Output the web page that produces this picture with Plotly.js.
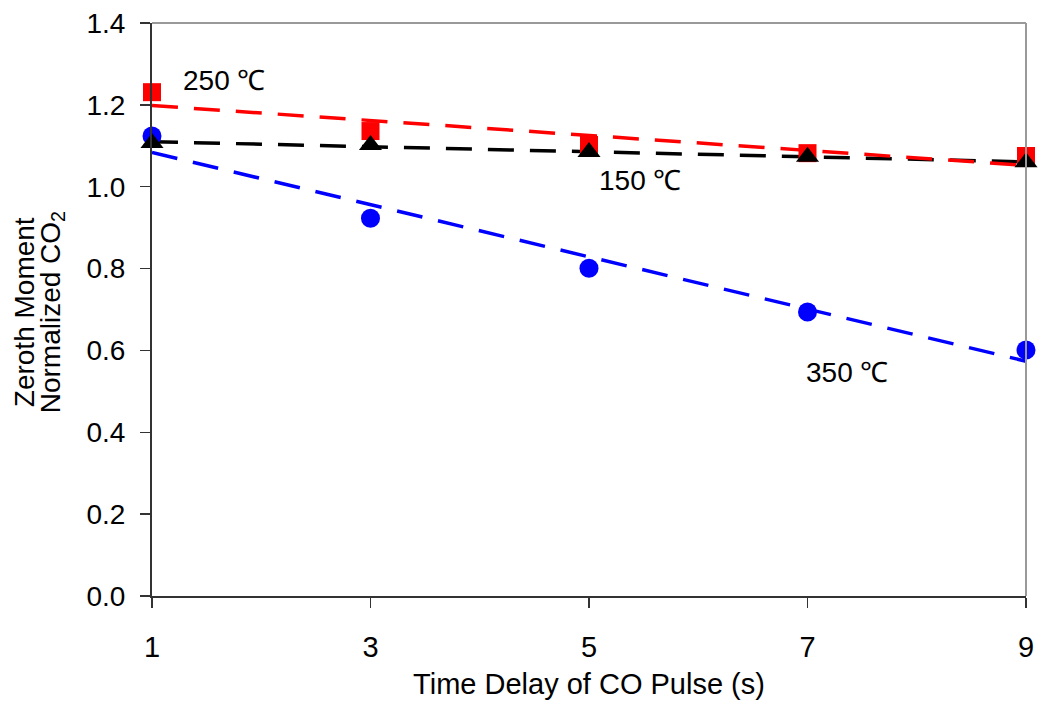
<!DOCTYPE html>
<html>
<head>
<meta charset="utf-8">
<script src="https://cdn.plot.ly/plotly-3.0.1.min.js"></script>
<style>html,body{margin:0;padding:0;background:#fff;}#chart{width:1039px;height:704px;}</style>
</head>
<body>
<div id="chart"></div>
<script>
// Data
const timeDelay = [1, 3, 5, 7, 9];
const series250 = [1.231, 1.136, 1.102, 1.082, 1.075];
const series150 = [1.107, 1.102, 1.085, 1.073, 1.060];
const series350 = [1.124, 0.923, 0.801, 0.694, 0.601];
const yTickVals = [0, 0.2, 0.4, 0.6, 0.8, 1.0, 1.2, 1.4];
const xTickVals = [1, 3, 5, 7, 9];
const labels = ["250 \u2103", "150 \u2103", "350 \u2103"];
const yTitleLines = ["Zeroth Moment", "Normalized CO<sub>2</sub>"];
const xTitle = "Time Delay of CO Pulse (s)";

function linFit(xs, ys) {
  const n = xs.length;
  const mx = xs.reduce((a, b) => a + b, 0) / n;
  const my = ys.reduce((a, b) => a + b, 0) / n;
  let sxy = 0, sxx = 0;
  for (let i = 0; i < n; i++) { sxy += (xs[i] - mx) * (ys[i] - my); sxx += (xs[i] - mx) ** 2; }
  const m = sxy / sxx, b = my - m * mx;
  const x0 = Math.min(...xs), x1 = Math.max(...xs);
  return { x: [x0, x1], y: [m * x0 + b, m * x1 + b] };
}

const font = "Liberation Sans, Arial, sans-serif";
const dash = "26px,16px";
const lw = 3.5;

const f150 = linFit(timeDelay, series150);
const f250 = linFit(timeDelay, series250);
const f350 = linFit(timeDelay, series350);

const traces = [
  { x: f350.x, y: f350.y, mode: "lines", line: { color: "#0000ff", width: lw, dash: dash }, cliponaxis: false, hoverinfo: "skip" },
  { x: f150.x, y: f150.y, mode: "lines", line: { color: "#000000", width: lw, dash: dash }, cliponaxis: false, hoverinfo: "skip" },
  { x: f250.x, y: f250.y, mode: "lines", line: { color: "#ff0000", width: lw, dash: dash }, cliponaxis: false, hoverinfo: "skip" },
  { x: timeDelay, y: series350, mode: "markers", marker: { symbol: "circle", size: 19, color: "#0000ff" }, cliponaxis: false },
  { x: timeDelay, y: series250, mode: "markers", marker: { symbol: "square", size: 18, color: "#ff0000" }, cliponaxis: false },
  { x: timeDelay, y: series150, mode: "markers", marker: { symbol: "triangle-up", size: 20, color: "#000000" }, cliponaxis: false }
];

const layout = {
  width: 1039, height: 704,
  margin: { l: 152, r: 13, t: 23, b: 108 },
  paper_bgcolor: "#fff", plot_bgcolor: "#fff",
  showlegend: false,
  font: { family: font, size: 26, color: "#000" },
  xaxis: {
    range: [1, 9], tickvals: xTickVals, ticktext: xTickVals.map(String),
    showgrid: false, zeroline: false, showline: true, linecolor: "#333", linewidth: 2,
    ticks: "outside", ticklen: 10, tickcolor: "#333", tickwidth: 1.5,
    ticklabelstandoff: 14,
    tickfont: { family: font, size: 29 },
    title: { text: xTitle, font: { family: font, size: 29 }, standoff: 12 }
  },
  yaxis: {
    range: [0, 1.4], tickvals: yTickVals, tickformat: ".1f",
    showgrid: false, zeroline: false, showline: true, linecolor: "#333", linewidth: 2,
    ticks: "outside", ticklen: 10, tickcolor: "#333", tickwidth: 1.5,
    ticklabelstandoff: 9,
    tickfont: { family: font, size: 28 }
  },
  shapes: [
    { type: "line", xref: "paper", yref: "paper", x0: 0, x1: 1, y0: 1, y1: 1, line: { color: "#999", width: 2 } },
    { type: "line", xref: "paper", yref: "paper", x0: 1, x1: 1, y0: 0, y1: 1, line: { color: "#999", width: 2 } }
  ],
  annotations: [
    { x: 1.66, y: 1.26, text: labels[0], showarrow: false, font: { family: font, size: 28 } },
    { x: 5.47, y: 1.016, text: labels[1], showarrow: false, font: { family: font, size: 28 } },
    { x: 7.37, y: 0.547, text: labels[2], showarrow: false, font: { family: font, size: 28 } },
    { xref: "paper", yref: "paper", x: -0.1455, y: 0.495, xanchor: "center", yanchor: "middle", text: yTitleLines[0], textangle: -90, showarrow: false, font: { family: font, size: 28 } },
    { xref: "paper", yref: "paper", x: -0.1145, y: 0.495, xanchor: "center", yanchor: "middle", text: yTitleLines[1], textangle: -90, showarrow: false, font: { family: font, size: 28 } }
  ]
};

Plotly.newPlot("chart", traces, layout, { displayModeBar: false, staticPlot: true });
</script>
</body>
</html>
